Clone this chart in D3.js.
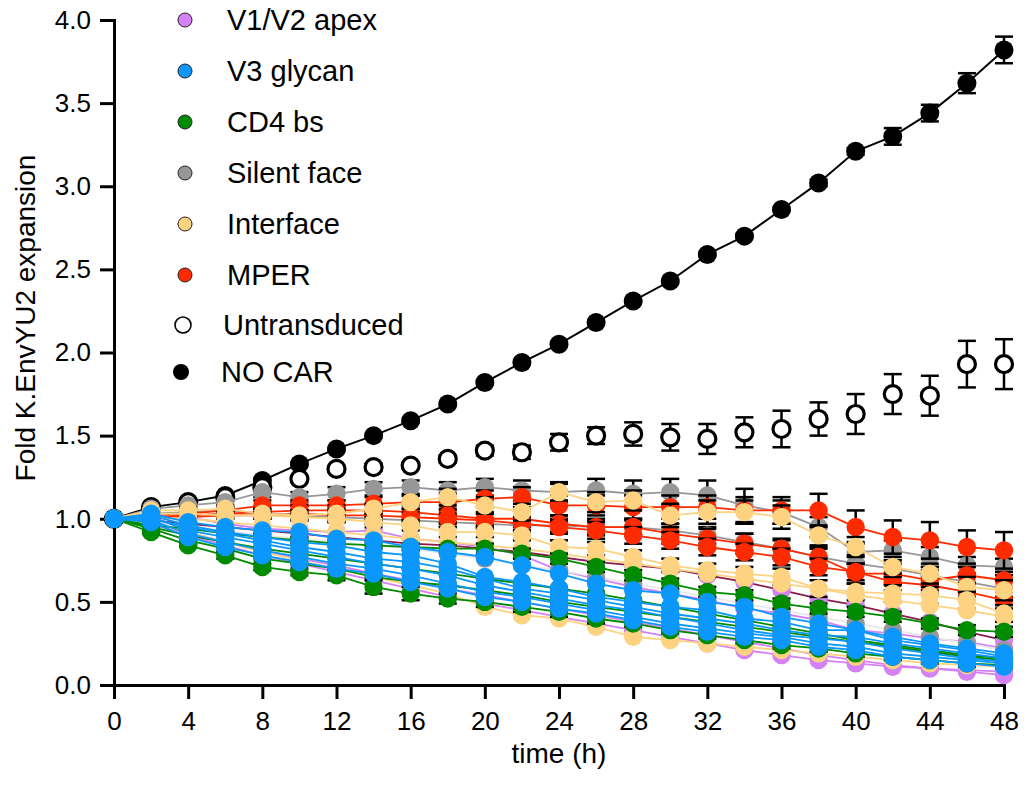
<!DOCTYPE html>
<html><head><meta charset="utf-8">
<script src="https://cdn.jsdelivr.net/npm/d3@7"></script>
<style>
body{margin:0;background:#fff}
svg{display:block}
text{font-family:"Liberation Sans",Arial,Helvetica,sans-serif;fill:#000}
</style>
</head><body>
<svg id="chart" width="1025" height="786"></svg>
<script>
// ---------- data ----------
const timePoints = [0,2,4,6,8,10,12,14,16,18,20,22,24,26,28,30,32,34,36,38,40,42,44,46,48];
const xTickValues = [0,4,8,12,16,20,24,28,32,36,40,44,48];
const yTickValues = [0,0.5,1.0,1.5,2.0,2.5,3.0,3.5,4.0];
const legendLabels = ["V1/V2 apex","V3 glycan","CD4 bs","Silent face","Interface","MPER","Untransduced","NO CAR"];
const categories = ["V1/V2 apex","V3 glycan","CD4 bs","Silent face","Interface","MPER"];
const categoryColors = ["#d581f6","#0b97fb","#008b00","#979797","#fdd382","#ff2b00"];

const noCar      = [1.00,1.07,1.10,1.14,1.23,1.33,1.42,1.50,1.59,1.69,1.82,1.94,2.05,2.18,2.31,2.43,2.59,2.70,2.86,3.02,3.21,3.30,3.44,3.62,3.82];
const noCarErr   = [0,0.01,0.01,0.01,0.01,0.01,0.01,0.01,0.01,0.01,0.01,0.01,0.01,0.01,0.01,0.01,0.01,0.01,0.01,0.02,0.02,0.05,0.05,0.06,0.08];
const untrans    = [1.00,1.07,1.10,1.13,1.19,1.24,1.30,1.31,1.32,1.36,1.41,1.40,1.46,1.50,1.51,1.49,1.48,1.52,1.54,1.60,1.63,1.75,1.74,1.93,1.93];
const untransErr = [0,0.01,0.01,0.01,0.01,0.01,0.01,0.02,0.02,0.02,0.03,0.04,0.05,0.05,0.07,0.08,0.09,0.09,0.11,0.10,0.12,0.12,0.12,0.14,0.15];

// V1/V2 apex
const apex1 = [1.00,0.99,0.97,0.95,0.93,0.91,0.89,0.87,0.85,0.84,0.82,0.80,0.77,0.74,0.72,0.70,0.66,0.62,0.57,0.52,0.48,0.43,0.38,0.32,0.27];
const apex2 = [1.00,1.01,1.01,0.97,0.94,0.93,0.92,0.93,0.88,0.86,0.83,0.78,0.69,0.64,0.59,0.55,0.51,0.46,0.43,0.39,0.33,0.31,0.28,0.26,0.22];
const apex3 = [1.00,0.98,0.92,0.86,0.81,0.76,0.72,0.67,0.63,0.58,0.54,0.50,0.46,0.42,0.38,0.34,0.30,0.26,0.22,0.18,0.15,0.12,0.10,0.08,0.06];
const apex4 = [1.00,0.97,0.90,0.84,0.78,0.73,0.68,0.63,0.58,0.53,0.49,0.45,0.41,0.37,0.33,0.29,0.25,0.21,0.18,0.15,0.13,0.11,0.10,0.09,0.08];
// V3 glycan
const v3g1 = [1.00,1.03,0.98,0.95,0.93,0.92,0.88,0.87,0.83,0.80,0.77,0.72,0.67,0.61,0.57,0.55,0.50,0.47,0.41,0.37,0.33,0.29,0.25,0.22,0.19];
const v3g2 = [1.00,1.02,0.96,0.92,0.89,0.86,0.84,0.80,0.78,0.73,0.65,0.62,0.58,0.53,0.50,0.47,0.45,0.40,0.38,0.33,0.33,0.27,0.24,0.21,0.17];
const v3g3 = [1.00,1.01,0.93,0.89,0.85,0.81,0.77,0.73,0.70,0.66,0.60,0.56,0.52,0.48,0.45,0.41,0.37,0.33,0.30,0.28,0.26,0.22,0.19,0.16,0.14];
const v3g4 = [1.00,0.99,0.91,0.86,0.81,0.77,0.73,0.70,0.66,0.61,0.56,0.53,0.49,0.45,0.41,0.37,0.34,0.31,0.29,0.25,0.23,0.19,0.17,0.15,0.13];
const v3g5 = [1.00,0.98,0.89,0.83,0.78,0.74,0.70,0.67,0.62,0.58,0.53,0.50,0.46,0.43,0.39,0.35,0.32,0.29,0.27,0.23,0.21,0.17,0.15,0.13,0.11];
const v3g6 = [1.00,1.00,0.95,0.91,0.87,0.83,0.80,0.76,0.74,0.70,0.64,0.58,0.55,0.51,0.47,0.43,0.40,0.37,0.33,0.30,0.29,0.25,0.22,0.19,0.16];
// CD4 bs
const cd4a = [1.00,0.96,0.94,0.91,0.89,0.87,0.85,0.84,0.83,0.82,0.82,0.79,0.76,0.71,0.66,0.61,0.56,0.54,0.49,0.46,0.44,0.41,0.37,0.33,0.32];
const cd4b = [1.00,0.94,0.87,0.82,0.76,0.73,0.70,0.65,0.62,0.60,0.57,0.54,0.50,0.47,0.44,0.41,0.38,0.35,0.32,0.29,0.26,0.23,0.20,0.17,0.15];
const cd4c = [1.00,0.92,0.84,0.78,0.71,0.68,0.66,0.59,0.55,0.52,0.50,0.47,0.44,0.40,0.37,0.33,0.30,0.27,0.24,0.22,0.19,0.17,0.15,0.13,0.12];
const cd4d = [1.00,0.95,0.90,0.86,0.82,0.79,0.76,0.73,0.70,0.67,0.64,0.61,0.58,0.55,0.51,0.47,0.43,0.39,0.35,0.31,0.27,0.24,0.21,0.18,0.16];
const cd4cErr = [0,0.01,0.01,0.02,0.02,0.02,0.03,0.04,0.04,0.03,0.03,0.03,0.03,0.03,0.02,0.02,0.02,0.02,0.02,0.02,0.02,0.02,0.02,0.02,0.02];
const cd4aErr = [0,0.01,0.01,0.01,0.02,0.02,0.02,0.02,0.02,0.02,0.03,0.03,0.03,0.03,0.03,0.03,0.03,0.03,0.03,0.03,0.03,0.03,0.03,0.03,0.03];
// Silent face
const sf1 = [1.00,1.06,1.08,1.10,1.16,1.13,1.15,1.18,1.19,1.17,1.19,1.17,1.16,1.17,1.15,1.16,1.14,1.08,1.04,0.95,0.80,0.81,0.77,0.72,0.71];
const sf2 = [1.00,1.03,1.04,1.05,1.03,1.02,1.01,1.00,0.99,0.98,0.97,0.96,0.96,0.95,0.95,0.93,0.90,0.86,0.82,0.77,0.73,0.70,0.66,0.62,0.58];
const sf3 = [1.00,0.98,0.95,0.93,0.90,0.88,0.86,0.84,0.82,0.79,0.76,0.72,0.69,0.65,0.61,0.57,0.53,0.49,0.45,0.41,0.37,0.33,0.29,0.25,0.21];
const sf1Err = [0,0.02,0.02,0.03,0.03,0.03,0.04,0.04,0.04,0.05,0.05,0.06,0.06,0.07,0.08,0.08,0.09,0.10,0.07,0.06,0.06,0.06,0.06,0.05,0.05];
const sf2Err = [0,0.01,0.02,0.02,0.02,0.02,0.03,0.03,0.03,0.03,0.03,0.04,0.04,0.04,0.04,0.04,0.05,0.05,0.05,0.05,0.05,0.05,0.05,0.05,0.05];
// Interface
const if1 = [1.00,1.05,1.05,1.06,1.03,1.02,1.03,1.06,1.10,1.13,1.08,1.04,1.16,1.10,1.11,1.02,1.04,1.04,1.01,0.90,0.83,0.71,0.67,0.59,0.57];
const if2 = [1.00,1.03,1.03,1.02,1.02,1.01,1.00,0.98,0.96,0.92,0.92,0.90,0.83,0.82,0.77,0.72,0.69,0.67,0.65,0.58,0.56,0.55,0.54,0.51,0.43];
const if3 = [1.00,1.01,1.00,0.98,0.96,0.94,0.92,0.90,0.88,0.86,0.84,0.82,0.79,0.76,0.73,0.70,0.67,0.64,0.61,0.58,0.54,0.51,0.48,0.45,0.41];
const if4 = [1.00,0.97,0.92,0.86,0.80,0.75,0.70,0.65,0.60,0.55,0.47,0.42,0.40,0.35,0.29,0.27,0.25,0.23,0.21,0.19,0.17,0.15,0.13,0.12,0.11];
const if1Err = [0,0.02,0.02,0.02,0.03,0.03,0.03,0.03,0.04,0.05,0.05,0.05,0.05,0.06,0.06,0.07,0.07,0.07,0.07,0.06,0.06,0.06,0.06,0.06,0.06];
const if2Err = [0,0.01,0.01,0.02,0.02,0.02,0.02,0.03,0.03,0.03,0.03,0.03,0.04,0.04,0.04,0.04,0.04,0.04,0.05,0.05,0.05,0.05,0.05,0.05,0.05];
// MPER
const mp1 = [1.00,1.02,1.03,1.05,1.08,1.08,1.08,1.09,1.10,1.10,1.12,1.13,1.08,1.08,1.07,1.07,1.07,1.05,1.05,1.05,0.95,0.89,0.87,0.83,0.81];
const mp2 = [1.00,1.01,1.02,1.03,1.04,1.05,1.05,1.05,1.04,1.02,1.00,1.00,0.97,0.95,0.95,0.91,0.88,0.85,0.82,0.77,0.67,0.67,0.63,0.66,0.63];
const mp3 = [1.00,1.00,1.01,1.02,1.02,1.03,1.02,1.02,1.01,1.00,0.99,0.97,0.95,0.93,0.90,0.87,0.83,0.80,0.77,0.71,0.68,0.62,0.60,0.56,0.51];
const mp1Err = [0,0.02,0.02,0.02,0.03,0.03,0.03,0.04,0.04,0.05,0.05,0.06,0.06,0.06,0.07,0.07,0.07,0.08,0.08,0.10,0.10,0.10,0.11,0.10,0.11];
const mp2Err = [0,0.02,0.02,0.02,0.02,0.03,0.03,0.03,0.04,0.04,0.04,0.05,0.05,0.05,0.05,0.06,0.06,0.06,0.06,0.06,0.06,0.06,0.06,0.05,0.05];
const mp3Err = [0,0.01,0.02,0.02,0.02,0.02,0.03,0.03,0.03,0.03,0.04,0.04,0.04,0.05,0.05,0.05,0.05,0.05,0.05,0.05,0.05,0.05,0.05,0.05,0.05];

// series table built from the arrays (draw order)
const seriesTable = [
  {cat:0, values:apex1, err:null, line:"#8a1d4d"},
  {cat:0, values:apex2, err:null},
  {cat:0, values:apex3, err:null},
  {cat:0, values:apex4, err:null},
  {cat:3, values:sf3, err:null, line:"#e8e8e8"},
  {cat:3, values:sf1, err:sf1Err},
  {cat:3, values:sf2, err:sf2Err},
  {cat:5, values:mp1, err:mp1Err},
  {cat:5, values:mp2, err:mp2Err},
  {cat:5, values:mp3, err:mp3Err},
  {cat:4, values:if1, err:if1Err},
  {cat:4, values:if2, err:if2Err},
  {cat:4, values:if3, err:null},
  {cat:4, values:if4, err:null},
  {cat:2, values:cd4a, err:cd4aErr},
  {cat:2, values:cd4b, err:null},
  {cat:2, values:cd4c, err:cd4cErr},
  {cat:2, values:cd4d, err:null},
  {cat:1, values:v3g1, err:null},
  {cat:1, values:v3g2, err:null},
  {cat:1, values:v3g3, err:null},
  {cat:1, values:v3g4, err:null},
  {cat:1, values:v3g5, err:null},
  {cat:1, values:v3g6, err:null}
];

// ---------- drawing ----------
const svg = d3.select("#chart");
const x = d3.scaleLinear().domain([0,48]).range([114,1004]);
const y = d3.scaleLinear().domain([0,4]).range([685,20]);

const FS_TICK = 26, FS_LEG = 29, FS_XTITLE = 28, FS_YTITLE = 28;

// axes
const gy = svg.append("g").attr("transform", `translate(${x(0)},0)`)
  .call(d3.axisLeft(y).tickValues(yTickValues).tickFormat(d3.format(".1f")).tickSize(14).tickSizeOuter(0).tickPadding(9));
const gx = svg.append("g").attr("transform", `translate(0,${y(0)})`)
  .call(d3.axisBottom(x).tickValues(xTickValues).tickFormat(d3.format("d")).tickSize(14).tickSizeOuter(0).tickPadding(13));
[gx, gy].forEach(g => {
  g.select(".domain").attr("stroke","#000").attr("stroke-width",3).attr("stroke-linecap","square");
  g.selectAll(".tick line").attr("stroke","#000").attr("stroke-width",3);
  g.selectAll(".tick text").attr("font-size",FS_TICK).attr("font-family","Liberation Sans, Arial, sans-serif").attr("fill","#000");
});

// axis titles
svg.append("text").attr("x", 559).attr("y", 763).attr("text-anchor","middle")
  .attr("font-size",FS_XTITLE).text("time (h)");
svg.append("text").attr("transform","translate(35,318) rotate(-90)").attr("text-anchor","middle")
  .attr("font-size",FS_YTITLE).text("Fold K.EnvYU2 expansion");

const line = d3.line().x((d,i)=>x(timePoints[i])).y(d=>y(d));
const CAP = 9;

function drawErr(g, vals, err){
  if(!err) return;
  const eg = g.append("g").attr("stroke","#000").attr("stroke-width",2.5);
  vals.forEach((v,i)=>{
    const e = err[i]; if(!e) return;
    const cx = x(timePoints[i]);
    eg.append("line").attr("x1",cx).attr("x2",cx).attr("y1",y(v+e)).attr("y2",y(v-e));
    eg.append("line").attr("x1",cx-CAP).attr("x2",cx+CAP).attr("y1",y(v+e)).attr("y2",y(v+e));
    eg.append("line").attr("x1",cx-CAP).attr("x2",cx+CAP).attr("y1",y(v-e)).attr("y2",y(v-e));
  });
}

const data = svg.append("g");

// NO CAR
const gNo = data.append("g");
gNo.append("path").datum(noCar).attr("d",line).attr("fill","none").attr("stroke","#000").attr("stroke-width",2);
drawErr(gNo, noCar, noCarErr);
gNo.selectAll("circle").data(noCar).join("circle")
  .attr("cx",(d,i)=>x(timePoints[i])).attr("cy",d=>y(d)).attr("r",9.5).attr("fill","#000");

// Untransduced
const gUn = data.append("g");
drawErr(gUn, untrans, untransErr);
gUn.selectAll("circle").data(untrans).join("circle")
  .attr("cx",(d,i)=>x(timePoints[i])).attr("cy",d=>y(d)).attr("r",8.5)
  .attr("fill","#fff").attr("stroke","#000").attr("stroke-width",3.2);

// CAR series
seriesTable.forEach(s=>{
  const col = categoryColors[s.cat];
  const g = data.append("g");
  g.append("path").datum(s.values).attr("d",line).attr("fill","none")
    .attr("stroke", s.line || col).attr("stroke-width",1.8);
  drawErr(g, s.values, s.err);
  g.selectAll("circle").data(s.values).join("circle")
    .attr("cx",(d,i)=>x(timePoints[i])).attr("cy",d=>y(d)).attr("r",9.2).attr("fill",col);
});

// legend
const legY = [20,71,122,173,224,275,325,372];
const leg = svg.append("g");
legendLabels.forEach((lab,i)=>{
  const yy = legY[i];
  let mx = 185, tx = 227;
  if(i < 6){
    leg.append("circle").attr("cx",mx).attr("cy",yy).attr("r",7).attr("fill",categoryColors[i])
      .attr("stroke","#222").attr("stroke-width",1);
  } else if(i === 6){
    mx = 183; tx = 223;
    leg.append("circle").attr("cx",mx).attr("cy",yy).attr("r",8).attr("fill","#fff")
      .attr("stroke","#000").attr("stroke-width",1.6);
  } else {
    mx = 181; tx = 221;
    leg.append("circle").attr("cx",mx).attr("cy",yy).attr("r",8).attr("fill","#000");
  }
  leg.append("text").attr("x",tx).attr("y",yy+10).attr("font-size",FS_LEG).text(lab);
});
</script>
</body></html>
